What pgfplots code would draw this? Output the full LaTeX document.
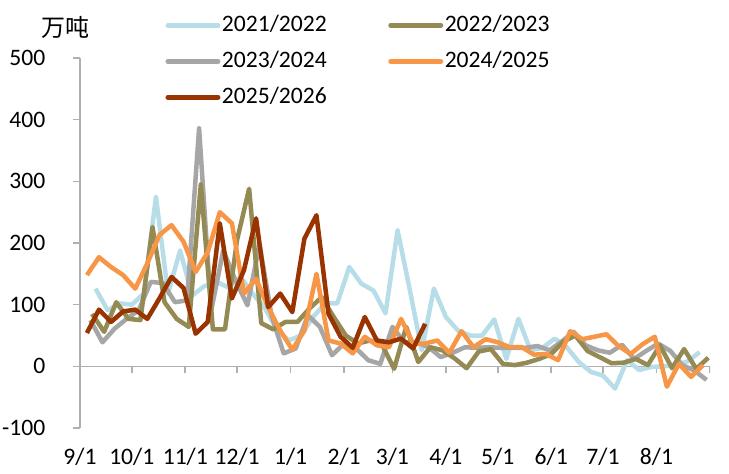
\documentclass[border=0pt]{standalone}
\usepackage{fontspec}
\setmainfont{Carlito}
\newfontfamily\cjk{Noto Sans CJK SC}
\usepackage{pgfplots}
\pgfplotsset{compat=1.18}
\definecolor{cA}{HTML}{B7DEE8}
\definecolor{cB}{HTML}{948A54}
\definecolor{cC}{HTML}{A6A6A6}
\definecolor{cD}{HTML}{F79646}
\definecolor{cE}{HTML}{993300}
\definecolor{axgray}{HTML}{B0B0B0}
\begin{document}
\begin{tikzpicture}[font=\fontsize{11.8}{14}\selectfont]
\begin{axis}[
  scale only axis, width=315pt, height=185pt,
  xmin=0, xmax=365, ymin=-100, ymax=500,
  axis lines*=left,
  x axis line style={draw=none},
  y axis line style={draw=axgray, line width=0.8pt},
  xtick={0,30,61,91,122,153,181,212,242,273,303,334},
  xticklabels={9/1,10/1,11/1,12/1,1/1,2/1,3/1,4/1,5/1,6/1,7/1,8/1},
  xtick style={draw=none},
  ytick={-100,0,100,200,300,400,500},
  yticklabels={-100,0,100,200,300,400,500},
  ytick style={draw=axgray, line width=0.8pt},
  tick align=outside, major tick length=3.5pt,
  xticklabel style={anchor=base, inner sep=0pt, yshift=-14.75pt},
  yticklabel style={anchor=east, inner sep=0pt, xshift=-13.65pt},
  legend columns=2,
  legend cell align=left,
  legend style={at={(axis description cs:0.1317,1.1157)}, anchor=north west,
    draw=none, fill=none, inner sep=0pt, outer sep=0pt, row sep=8pt,
    nodes={inner sep=0pt, text height=8pt, text depth=2pt},
    /tikz/every odd column/.append style={column sep=-0.5pt},
    /tikz/every even column/.append style={column sep=29.5pt}},
  legend image code/.code={\path (0pt,0pt) (27.5pt,0pt); \draw[#1, line cap=round] (1.25pt,0pt) -- (26.25pt,0pt);},
  every axis plot/.append style={line width=2.25pt, line join=round},
]
\addlegendimage{cA, line width=2.5pt}\addlegendentry{2021/2022}
\addlegendimage{cB, line width=2.5pt}\addlegendentry{2022/2023}
\addlegendimage{cC, line width=2.5pt}\addlegendentry{2023/2024}
\addlegendimage{cD, line width=2.5pt}\addlegendentry{2024/2025}
\addlegendimage{cE, line width=2.5pt}\addlegendentry{2025/2026}

% x axis line at y=0 with month ticks
\draw[axgray, line width=0.8pt] (axis cs:0,0) -- (axis cs:365,0);
\pgfplotsinvokeforeach{0,30,61,91,122,153,181,212,242,273,303,334,365}{
  \draw[axgray, line width=0.8pt] (axis cs:#1,0) -- ([yshift=-3.5pt]axis cs:#1,0);
}

% 2021/2022
\addplot[cA, forget plot] coordinates {
(9,126) (16,91) (23,102) (30,100) (37,118) (44,275) (51,118) (58,188) (65,115) (72,130)
(79,137) (86,128) (93,145) (100,118) (107,95) (114,60) (121,42) (128,50) (135,80) (142,102)
(149,102) (156,161) (163,134) (170,123) (177,86) (184,221) (191,125) (198,26) (205,126) (212,80)
(219,58) (226,50) (233,50) (240,76) (247,12) (254,77) (261,26) (268,30) (275,45) (282,31)
(289,7) (296,-9) (303,-15) (310,-36) (317,10) (324,-6) (331,-1) (338,0) (345,2) (352,8)
(359,23)};
% 2023/2024
\addplot[cC, forget plot] coordinates {
(6,75) (13,39) (20,61) (27,77) (34,91) (41,137) (48,135) (55,104) (62,107) (69,386)
(76,90) (83,188) (90,140) (97,99) (104,198) (111,82) (118,21) (125,29) (132,83) (139,64)
(146,18) (153,37) (160,29) (167,10) (174,4) (181,64) (188,39) (195,39) (202,31) (209,15)
(216,22) (223,31) (230,30) (237,31) (244,30) (251,30) (258,30) (265,33) (272,26) (279,40)
(286,56) (293,34) (300,26) (307,22) (314,35) (321,12) (328,25) (335,37) (342,25) (349,2)
(356,-7) (363,-22)};
% 2022/2023
\addplot[cB, forget plot] coordinates {
(7,85) (14,56) (21,104) (28,77) (35,75) (42,226) (49,104) (56,77) (63,64) (70,295)
(77,60) (84,60) (91,205) (98,288) (105,70) (112,60) (119,72) (126,72) (133,94) (140,112)
(147,80) (154,50) (161,37) (168,42) (175,35) (182,-4) (189,64) (196,7) (203,31) (210,26)
(217,13) (224,-3) (231,24) (238,28) (245,4) (252,2) (259,6) (266,12) (273,20) (280,40)
(287,50) (294,25) (301,15) (308,5) (315,6) (322,12) (329,2) (336,34) (343,-3) (350,28)
(357,-4) (364,14)};
% 2024/2025
\addplot[cD, forget plot] coordinates {
(4,148) (11,177) (18,161) (25,148) (32,126) (39,167) (46,213) (53,229) (60,202) (67,153)
(74,185) (81,250) (88,232) (95,118) (102,142) (109,96) (116,58) (123,27) (130,58) (137,150)
(144,42) (151,37) (158,21) (165,48) (172,34) (179,31) (186,77) (193,37) (200,37) (207,42)
(214,22) (221,57) (228,31) (235,44) (242,39) (249,31) (256,31) (263,19) (270,20) (277,10)
(284,57) (291,44) (298,48) (305,52) (312,33) (319,20) (326,36) (333,48) (340,-33) (347,4)
(354,-17) (361,2)};
% 2025/2026
\addplot[cE, forget plot] coordinates {
(4,54) (11,92) (18,72) (25,89) (32,92) (39,77) (46,110) (53,145) (60,127) (67,53)
(74,72) (81,232) (88,110) (95,156) (102,240) (109,96) (116,118) (123,88) (130,207) (137,245)
(144,85) (151,48) (158,30) (165,80) (172,42) (179,39) (186,45) (193,29) (200,69)};

\coordinate (SW) at (rel axis cs:0,0);
\end{axis}
\node[font=\cjk\fontsize{12}{14}\selectfont, anchor=center] at ([shift={(-7.5pt,200.5pt)}]SW) {万吨};
\pgfresetboundingbox
\path ([shift={(-40pt,-22.5pt)}]SW) rectangle ++(364.5pt,236.5pt);
\end{tikzpicture}
\end{document}
